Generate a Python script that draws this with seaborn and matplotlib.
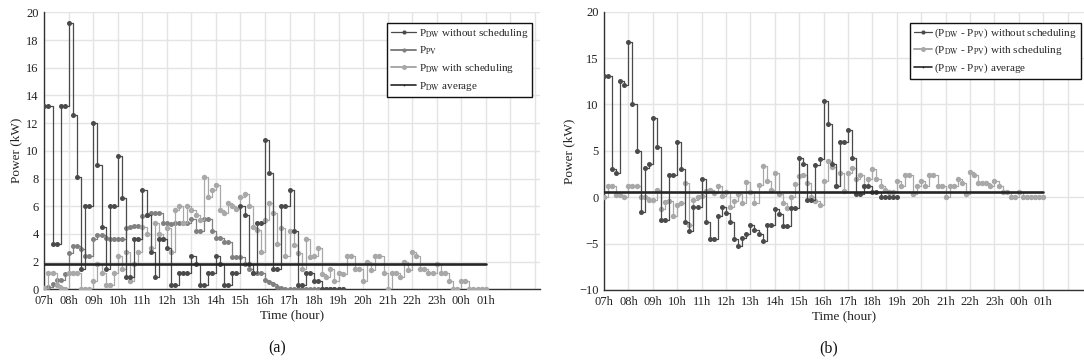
import numpy as np
import pandas as pd
import matplotlib
matplotlib.use("Agg")
import matplotlib.pyplot as plt
from matplotlib.lines import Line2D
import seaborn as sns

# ---------------- data (10-minute samples starting at 07:00) ----------------
hour_ticks = list(range(7, 26))
hour_labels = ["07h", "08h", "09h", "10h", "11h", "12h", "13h", "14h", "15h",
               "16h", "17h", "18h", "19h", "20h", "21h", "22h", "23h", "00h", "01h"]

# (a) P_DW without scheduling, 07:00 -> 19:10
pdw_without = [13.2, 13.2, 3.3, 3.3, 13.2, 13.2,
               19.2, 12.6, 8.1, 1.5, 6.0, 6.0,
               12.0, 9.0, 4.5, 1.5, 6.0, 6.0,
               9.6, 6.6, 0.9, 0.9, 3.6, 3.6,
               7.2, 5.4, 2.7, 0.9, 3.6, 3.6,
               3.0, 0.3, 0.3, 1.2, 1.2, 1.2,
               2.4, 1.8, 0.3, 0.3, 1.2, 1.2,
               2.4, 1.8, 0.3, 0.3, 1.2, 1.2,
               6.0, 5.4, 1.8, 1.2, 4.8, 4.8,
               10.8, 8.4, 1.5, 1.5, 6.0, 6.0,
               7.2, 4.2, 0.3, 0.3, 1.2, 1.2,
               0.6, 0.6, 0.0, 0.0, 0.0, 0.0,
               0.0, 0.0]
# (a) P_PV, 07:00 -> 19:10
ppv = [0.1, 0.2, 0.4, 0.7, 0.7, 1.1,
       2.6, 3.1, 3.1, 2.9, 2.4, 2.4,
       3.6, 3.9, 3.9, 3.7, 3.6, 3.6,
       3.6, 3.6, 4.4, 4.5, 4.6, 4.6,
       5.3, 5.4, 5.5, 5.5, 5.5, 4.8,
       4.8, 4.7, 4.8, 4.8, 4.8, 4.8,
       5.1, 4.2, 4.2, 5.1, 5.1, 4.2,
       3.7, 3.7, 3.4, 3.4, 2.3, 2.3,
       2.3, 1.8, 1.5, 1.2, 1.2, 1.2,
       0.7, 0.5, 0.4, 0.2, 0.1, 0.0,
       0.0, 0.0, 0.0, 0.0, 0.0, 0.0,
       0.0, 0.0, 0.0, 0.0, 0.0, 0.0,
       0.0, 0.0]
# (a) P_DW with scheduling, 07:00 -> 01:00
pdw_with = [0.1, 1.2, 1.2, 0.3, 0.1, 0.0,
            1.2, 1.2, 1.2, 0.0, 0.0, 0.0,
            0.6, 1.8, 1.2, 0.3, 0.3, 1.2,
            2.4, 1.5, 2.7, 0.6, 1.8, 2.7,
            4.5, 4.0, 3.0, 4.8, 4.0, 3.6,
            4.4, 2.7, 5.7, 6.0, 4.8, 6.0,
            5.7, 5.4, 5.0, 8.1, 6.7, 7.2,
            7.5, 5.7, 5.5, 6.2, 6.0, 5.8,
            6.7, 6.9, 6.0, 4.5, 4.3, 2.7,
            5.0, 6.2, 5.5, 3.3, 4.4, 2.4,
            4.2, 3.2, 2.6, 1.5, 3.6, 2.3,
            2.4, 3.0, 1.1, 0.9, 1.5, 0.6,
            1.2, 1.1, 2.4, 2.4, 1.5, 1.5,
            0.6, 2.0, 1.4, 2.4, 2.4, 1.2,
            0.0, 1.2, 1.2, 0.9, 2.0, 1.4,
            2.7, 2.4, 1.5, 1.5, 1.2, 1.2,
            1.8, 1.2, 1.2, 0.6, 0.0, 0.0,
            0.6, 0.6, 0.0, 0.0, 0.0, 0.0,
            0.0]
pdw_average = 1.83
avg_span = [7, 25]

# (b) P_DW - P_PV without scheduling, 07:00 -> 19:00
diff_without = [13.1, 13.1, 3.0, 2.6, 12.5, 12.1,
                16.7, 10.1, 5.0, -1.6, 3.2, 3.6,
                8.5, 5.4, -2.5, -2.5, 2.4, 2.4,
                6.0, 3.0, -2.7, -3.6, -1.0, -1.0,
                2.0, -2.7, -4.5, -4.5, -2.0, -1.1,
                -1.7, -2.7, -4.5, -5.3, -4.4, -4.0,
                -3.0, -3.5, -4.0, -4.7, -3.0, -3.0,
                -1.25, -1.8, -3.1, -3.1, -1.15, -1.15,
                4.2, 3.6, -0.25, -0.3, 3.5, 4.1,
                10.4, 7.9, 3.6, 1.2, 5.9, 5.9,
                7.2, 4.2, 0.3, 0.3, 1.2, 1.2,
                0.6, 0.6, 0.0, 0.0, 0.0, 0.0,
                0.0]
# (b) P_DW - P_PV with scheduling, 07:00 -> 01:00
diff_with = [0.0, 1.2, 1.2, 0.2, 0.2, 0.0,
             1.2, 1.2, 1.2, 0.0, 0.0, -0.3,
             -0.3, 0.8, -1.3, -0.5, -0.4, -2.0,
             -0.8, -0.6, 1.5, -3.0, -0.3, 0.0,
             0.1, 0.7, 0.8, 0.5, 1.2, 0.1,
             0.6, -1.0, -0.4, 0.3, -0.6, 1.6,
             0.6, -0.6, 1.3, 3.4, 1.7, 0.8,
             2.6, 0.3, -0.6, -1.2, 0.0, 1.4,
             2.3, 2.4, 1.5, 0.0, -0.4, -0.8,
             1.7, 3.9, 3.3, 1.2, 2.6, 0.7,
             2.6, 3.2, 2.0, 2.4, 1.2, 2.0,
             3.0, 2.0, 1.2, 0.8, 0.6, 0.6,
             1.8, 1.2, 2.4, 2.4, 0.3, 1.2,
             1.8, 1.2, 2.4, 2.4, 1.2, 1.2,
             0.0, 1.2, 1.2, 2.0, 1.5, 0.3,
             2.7, 2.4, 1.5, 1.5, 1.5, 1.2,
             1.8, 1.2, 0.6, 0.6, 0.0, 0.0,
             0.6, 0.0, 0.0, 0.0, 0.0, 0.0,
             0.0]
diff_average = 0.55

# ---------------- styling ----------------
sns.set_theme(style="white")
plt.rcParams["font.family"] = ["Liberation Serif", "DejaVu Serif"]
plt.rcParams["mathtext.fontset"] = "stix"

C_DARK = "#4a4a4a"
C_PV = "#808080"
C_LIGHT = "#a8a8a8"
C_AVG = "#262626"
C_GRID = "#e4e4e4"


def times(values):
    return 7 + np.arange(len(values)) / 6.0


def step_series(ax, values, color, ms, z):
    df = pd.DataFrame({"t": times(values), "v": values})
    sns.lineplot(data=df, x="t", y="v", ax=ax, color=color, lw=0.9,
                 drawstyle="steps-post", marker="o", markersize=ms,
                 markeredgewidth=0, markerfacecolor=color, estimator=None,
                 sort=False, zorder=z)


def avg_line(ax, value):
    df = pd.DataFrame({"t": avg_span, "v": [value, value]})
    sns.lineplot(data=df, x="t", y="v", ax=ax, color=C_AVG, lw=1.9,
                 estimator=None, zorder=6)


def style_axes(ax, yticks, ylim, xmax, extra_grid):
    ax.set_xlim(7, xmax)
    ax.set_ylim(*ylim)
    ax.set_xticks(hour_ticks)
    ax.set_xticklabels(hour_labels)
    ax.set_xticks(extra_grid, minor=True)
    ax.set_yticks(yticks)
    ax.grid(True, which="both", color=C_GRID, lw=1.0, zorder=0)
    ax.set_axisbelow(True)
    for s in ["top", "right"]:
        ax.spines[s].set_visible(False)
    for s in ["left", "bottom"]:
        ax.spines[s].set_color("#333333")
        ax.spines[s].set_linewidth(1.0)
    ax.tick_params(axis="both", which="major", direction="in", length=3.5,
                   width=0.8, color="#222222", labelsize=9,
                   labelcolor="#222222")
    ax.tick_params(axis="x", which="major", pad=4)
    ax.tick_params(axis="y", which="major", pad=4)
    ax.tick_params(axis="x", which="minor", length=0)
    ax.set_xlabel("Time (hour)", fontsize=9.5, labelpad=2, color="#222222")
    ax.set_ylabel("Power (kW)", fontsize=9.5, labelpad=3, color="#222222")


fig = plt.figure(figsize=(10.84, 3.62), dpi=100)
axL = fig.add_axes([0.0409, 0.2008, 0.4576, 0.7652])
axR = fig.add_axes([0.5572, 0.1989, 0.4428, 0.7688])

# ---------------- (a) ----------------
step_series(axL, ppv, C_PV, 3.6, 3)
step_series(axL, pdw_with, C_LIGHT, 3.9, 4)
step_series(axL, pdw_without, C_DARK, 3.6, 5)
avg_line(axL, pdw_average)
style_axes(axL, list(range(0, 21, 2)), (0, 20), 27.23, [26, 27])

handlesL = [
    Line2D([], [], color=C_DARK, lw=0.9, marker="o", ms=3, mew=0),
    Line2D([], [], color=C_PV, lw=1.4, marker="o", ms=3, mew=0),
    Line2D([], [], color=C_LIGHT, lw=1.4, marker="o", ms=3.6, mew=0),
    Line2D([], [], color=C_AVG, lw=1.2, marker=".", ms=2.5, mew=0),
]
labelsL = [r"P$_{\mathrm{DW}}$ without scheduling", r"P$_{\mathrm{PV}}$",
           r"P$_{\mathrm{DW}}$ with scheduling", r"P$_{\mathrm{DW}}$ average"]
legL = axL.legend(handlesL, labelsL, loc="upper right",
                  bbox_to_anchor=(0.984, 0.9625), borderaxespad=0,
                  fontsize=8, frameon=True, fancybox=False, framealpha=1,
                  edgecolor="#111111", handlelength=2.2, handletextpad=0.3,
                  labelspacing=0.45, borderpad=0.35, numpoints=1)
legL.get_frame().set_linewidth(1.0)

# ---------------- (b) ----------------
step_series(axR, diff_with, C_LIGHT, 3.9, 4)
step_series(axR, diff_without, C_DARK, 3.6, 5)
avg_line(axR, diff_average)
style_axes(axR, list(range(-10, 21, 5)), (-10, 20), 26.67, [26])

handlesR = [
    Line2D([], [], color=C_DARK, lw=0.9, marker="o", ms=3, mew=0),
    Line2D([], [], color=C_LIGHT, lw=1.4, marker="o", ms=3.6, mew=0),
    Line2D([], [], color=C_AVG, lw=1.2, marker=".", ms=2.5, mew=0),
]
labelsR = [r"(P$_{\mathrm{DW}}$ - P$_{\mathrm{PV}}$) without scheduling",
           r"(P$_{\mathrm{DW}}$ - P$_{\mathrm{PV}}$) with scheduling",
           r"(P$_{\mathrm{DW}}$ - P$_{\mathrm{PV}}$) average"]
legR = axR.legend(handlesR, labelsR, loc="upper right",
                  bbox_to_anchor=(0.994, 0.9605), borderaxespad=0,
                  fontsize=8, frameon=True, fancybox=False, framealpha=1,
                  edgecolor="#111111", handlelength=1.6, handletextpad=0.2,
                  labelspacing=0.35, borderpad=0.35, numpoints=1)
legR.get_frame().set_linewidth(1.0)

fig.text(277 / 1084, 1 - 348 / 362, "(a)", ha="center", va="center",
         fontsize=11.5, color="#111111")
fig.text(829 / 1084, 1 - 348 / 362, "(b)", ha="center", va="center",
         fontsize=11.5, color="#111111")

fig.savefig("out.png", dpi=100)
